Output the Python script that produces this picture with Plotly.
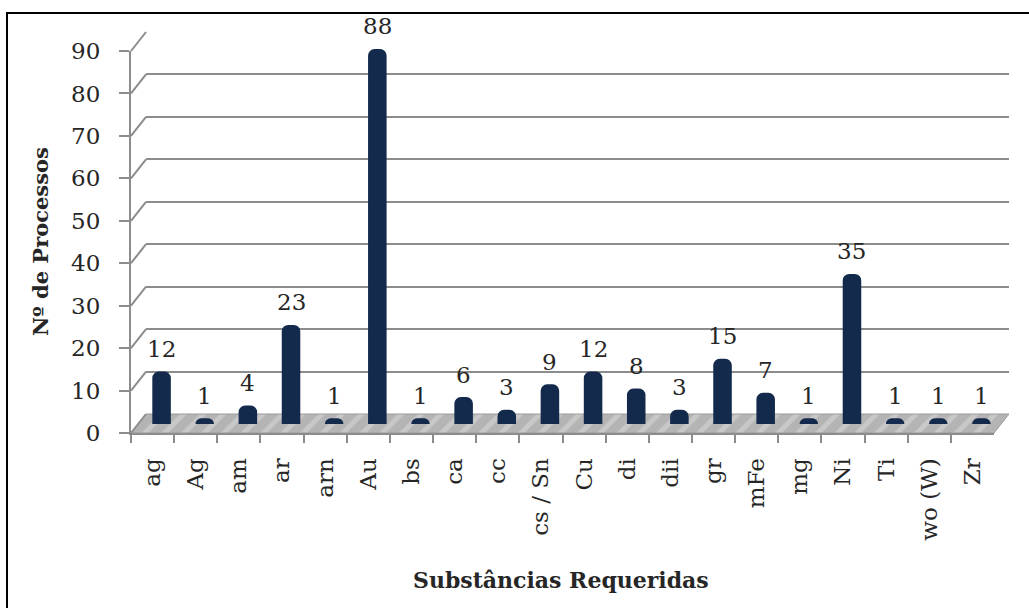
import plotly.graph_objects as go

# --- data -------------------------------------------------------------------
categorias = ["ag", "Ag", "am", "ar", "arn", "Au", "bs", "ca", "cc", "cs / Sn",
              "Cu", "di", "dii", "gr", "mFe", "mg", "Ni", "Ti", "wo (W)", "Zr"]
processos = [12, 1, 4, 23, 1, 88, 1, 6, 3, 9, 12, 8, 3, 15, 7, 1, 35, 1, 1, 1]
y_ticks = list(range(0, 91, 10))
y_max = 90

# --- geometry (pixels) ------------------------------------------------------
FIG_W, FIG_H = 1029, 608
L, R, T, B = 130, 1009, 32, 433          # plotting box inside the margins
W, H = R - L, B - T

FX0, FX1 = 131, 994                        # front plane, horizontal extent
FY0, FY1 = 433, 51                         # front plane, value 0 / value 90
DX, DY = 15, 19                            # depth offset of the back wall
MX, MY = 9, 9                              # depth offset of the columns


def px(x):
    return (x - L) / W


def py(y):
    return (B - y) / H


def front_y(v):
    return py(FY0) + v / y_max * (py(FY1) - py(FY0))


SERIF = "DejaVu Serif"
TXT = "#262626"
GRID = "#8c8c8c"
BAR = "#142a4c"

fig = go.Figure()

# empty trace so the back-wall subplot (and its gridlines) is created
fig.add_trace(go.Scatter(x=[], y=[], xaxis="x", yaxis="y", mode="lines",
                         hoverinfo="skip", showlegend=False))

# floor of the 3-D box (its own full-size pixel subplot)
floor_x = [FX0, FX1, FX1 + DX, FX0 + DX, FX0]
floor_y = [FY0, FY0, FY0 - DY, FY0 - DY, FY0]
fig.add_trace(go.Scatter(
    x=floor_x, y=floor_y, xaxis="x2", yaxis="y2", mode="lines",
    fill="toself", fillcolor="#bdbdbd",
    fillpattern=dict(shape="/", bgcolor="#b4b4b4", fgcolor="#dcdcdc",
                     size=14, solidity=0.35),
    line=dict(color="#9a9a9a", width=1), hoverinfo="skip", showlegend=False))

# columns
fig.add_trace(go.Bar(
    x=categorias, y=processos, xaxis="x3", yaxis="y3",
    marker=dict(color=BAR, line=dict(color=BAR, width=3)),
    width=0.36, hoverinfo="x+y", showlegend=False))

# front axes carry the category ticks and labels
fig.add_trace(go.Scatter(
    x=categorias, y=processos, xaxis="x4", yaxis="y4", mode="markers",
    marker=dict(opacity=0), hoverinfo="skip", showlegend=False))

fig.update_layout(
    width=FIG_W, height=FIG_H,
    margin=dict(l=L, r=FIG_W - R, t=T, b=FIG_H - B, pad=0),
    paper_bgcolor="white", plot_bgcolor="rgba(0,0,0,0)",
    font=dict(family=SERIF, size=23, color=TXT),
    barcornerradius=5,
    # back wall with its gridlines
    xaxis=dict(domain=[px(FX0 + DX), 1], range=[0, 1], anchor="y",
               showgrid=False, zeroline=False, showline=False,
               showticklabels=False, ticks=""),
    yaxis=dict(domain=[py(FY0 - DY), 1], range=[0, y_max], anchor="x",
               tickmode="array", tickvals=y_ticks, showticklabels=False,
               showgrid=True, gridcolor=GRID, gridwidth=2, zeroline=False,
               showline=False, ticks=""),
    # pixel-space layer for the floor
    xaxis2=dict(domain=[0, 1], range=[L, R], visible=False, anchor="y2"),
    yaxis2=dict(domain=[0, 1], range=[B, T], visible=False, anchor="x2"),
    # columns, sitting half-way into the box
    xaxis3=dict(domain=[px(FX0 + MX), px(FX1 + MX)], anchor="y3",
                type="category", categoryarray=categorias,
                range=[-0.5, len(categorias) - 0.5], visible=False),
    yaxis3=dict(domain=[py(FY0 - MY), py(FY1 - MY)], anchor="x3",
                range=[0, y_max], visible=False),
    # front axes
    xaxis4=dict(domain=[px(FX0), px(FX1)], anchor="y4", type="category",
                categoryarray=categorias,
                range=[-0.5, len(categorias) - 0.5],
                showline=True, linecolor=GRID, linewidth=2,
                ticks="outside", tickson="boundaries", ticklen=8,
                tickcolor=GRID, tickwidth=2, tickangle=-90,
                ticklabelstandoff=14, showgrid=False,
                tickfont=dict(family=SERIF, size=23, color=TXT)),
    yaxis4=dict(domain=[py(FY0), py(FY1)], anchor="x4", range=[0, y_max],
                tickmode="array", tickvals=y_ticks, showgrid=False,
                zeroline=False, showline=True, linecolor=GRID, linewidth=2,
                ticks="outside", ticklen=10, tickcolor=GRID, tickwidth=2,
                ticklabelstandoff=14,
                tickfont=dict(family=SERIF, size=23, color=TXT)),
)

shapes = []
# slanted links from the front value axis to the back wall
for v in y_ticks:
    yf = front_y(v)
    shapes.append(dict(type="line", xref="paper", yref="paper",
                       x0=px(FX0), y0=yf, x1=px(FX0 + DX), y1=yf + DY / H,
                       line=dict(color=GRID, width=2)))
# outer frame
shapes.append(dict(type="rect", xref="paper", yref="paper",
                   x0=px(7), y0=py(13), x1=px(FIG_W + 10), y1=py(FIG_H + 10),
                   line=dict(color="black", width=2), fillcolor="rgba(0,0,0,0)",
                   layer="above"))
fig.update_layout(shapes=shapes)

annotations = []
# value labels above each column
for c, v in zip(categorias, processos):
    annotations.append(dict(x=c, y=v, xref="x3", yref="y3", text=str(v),
                            showarrow=False, yanchor="bottom", yshift=9,
                            font=dict(family=SERIF, size=23, color=TXT)))
# axis titles
annotations.append(dict(x=px(40), y=py(242), xref="paper", yref="paper",
                        text="<b>Nº de Processos</b>", textangle=-90,
                        showarrow=False, xanchor="center", yanchor="middle",
                        font=dict(family=SERIF, size=21, color=TXT)))
annotations.append(dict(x=px(561), y=py(580), xref="paper", yref="paper",
                        text="<b>Substâncias Requeridas</b>",
                        showarrow=False, xanchor="center", yanchor="middle",
                        font=dict(family=SERIF, size=22, color=TXT)))
fig.update_layout(annotations=annotations)

fig.write_html("out.html")
